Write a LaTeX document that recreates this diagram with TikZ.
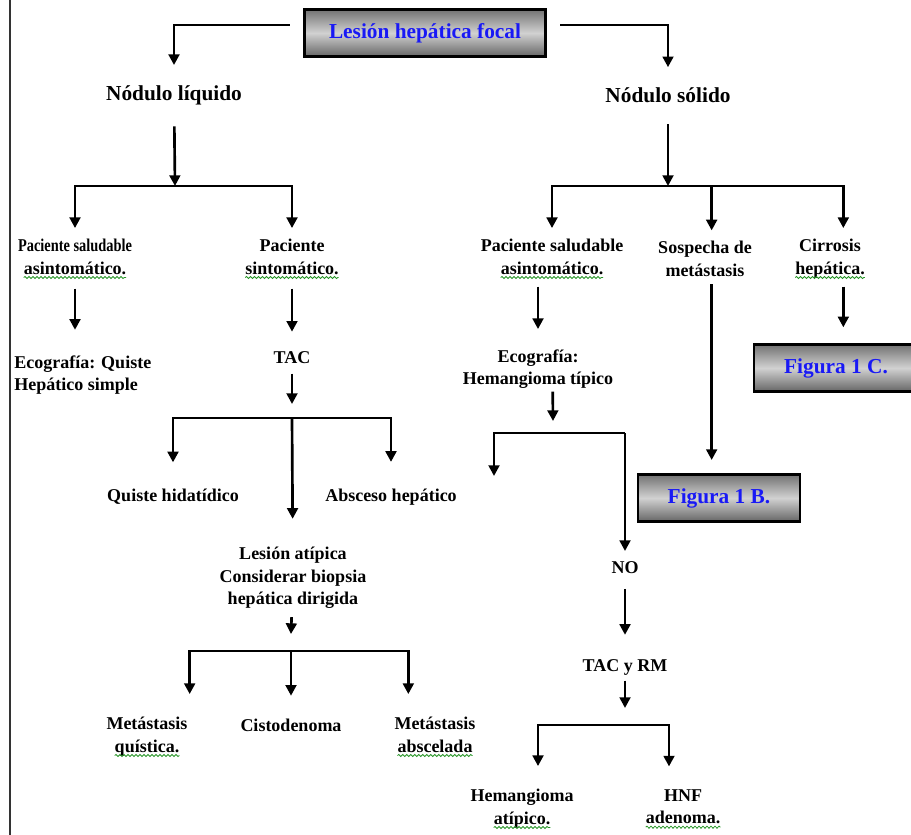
\documentclass[tikz,border=0pt]{standalone}
\usepackage{fontspec}
\setmainfont{Liberation Serif}
\newfontfamily\condfont[FakeStretch=0.8]{Liberation Serif}
\usetikzlibrary{arrows.meta,decorations.pathmorphing,shadings}
\definecolor{boxblue}{RGB}{25,25,245}
\definecolor{squig}{RGB}{40,150,40}
\newcommand{\sq}[1]{\tikz[baseline=(w.base)]{\node[inner sep=0pt,outer sep=0pt](w){#1};\draw[squig,line width=0.6pt,decorate,decoration={snake,amplitude=0.8pt,segment length=3pt}]([yshift=-2.5pt]w.base west)--([yshift=-2.5pt]w.base east);}}
\tikzset{
  lbl/.style={inner sep=0pt, align=center, font=\bfseries\fontsize{13.5}{17}\selectfont},
  big/.style={inner sep=0pt, font=\bfseries\fontsize{16}{19}\selectfont},
  figbox/.style={draw=black, line width=2pt, top color=black!55, bottom color=black!60, middle color=black!18,
    text=boxblue, font=\bfseries\fontsize{16}{19}\selectfont, inner sep=0pt},
  arr/.style={draw=black, line width=2pt, -{Triangle[width=8pt,length=8pt]}},
  ln/.style={draw=black, line width=2pt},
}
\begin{document}
\begin{tikzpicture}[x=0.75pt,y=-0.75pt]
\useasboundingbox (0,0) rectangle (911,835);
% left border
\draw[line width=2.2pt, black!80] (10,0) -- (10,835);

% nodes
\node[figbox, minimum width=181pt, minimum height=35pt] (top) at (425,33) {Lesión hepática focal};
\node[big] (liq) at (174,95) {Nódulo líquido};
\node[big] (sol) at (668,95) {Nódulo sólido};

\node[lbl] (ps1) at (75,259) {{\condfont Paciente saludable}\\\sq{asintomático.}};
\node[lbl] (ps2) at (292,259) {Paciente\\\sq{sintomático.}};
\node[lbl, align=left, anchor=west] (eco1) at (14,375) {Ecografía: Quiste\\Hepático simple};
\node[lbl] (tac1) at (292,358) {TAC};
\node[lbl] (qh) at (173,497) {Quiste hidatídico};
\node[lbl] (ah) at (391,497) {Absceso hepático};
\node[lbl] (la) at (293,578) {Lesión atípica\\Considerar biopsia\\hepática dirigida};
\node[lbl] (mq) at (147,737) {Metástasis\\\sq{quística.}};
\node[lbl] (cis) at (291,725) {Cistodenoma};
\node[lbl] (ma) at (435,737) {Metástasis\\\sq{abscelada}};

\node[lbl] (ps3) at (552,259) {Paciente saludable\\\sq{asintomático.}};
\node[lbl] (sm) at (705,259) {Sospecha de\\metástasis};
\node[lbl] (ch) at (830,259) {Cirrosis\\\sq{hepática.}};
\node[lbl] (eco2) at (538,369) {Ecografía:\\Hemangioma típico};
\node[figbox, minimum width=123pt, minimum height=35pt] (f1c) at (836,368) {Figura 1 C.};
\node[figbox, minimum width=121.5pt, minimum height=35pt] (f1b) at (719,498) {Figura 1 B.};
\node[lbl] (no) at (625,568) {NO};
\node[lbl] (tacrm) at (625,667) {TAC y RM};
\node[lbl] (ha) at (522,809) {Hemangioma\\\sq{atípico.}};
\node[lbl] (hnf) at (683,809) {HNF\\\sq{adenoma.}};

% junction coordinates
\coordinate (b1) at (175,186);
\coordinate (b4) at (668,186);
\coordinate (j2) at (292,404);
\coordinate (b2) at (292,418);
\coordinate (j3) at (291,634);
\coordinate (b3) at (291,651);
\coordinate (j5) at (553,421);
\coordinate (b5r) at (625,433);
\coordinate (e5) at (494,476);
\coordinate (j6) at (625,708);
\coordinate (b6) at (603,725);

% top level
\draw[arr, shorten >=15pt] ([xshift=-10pt,yshift=6pt]top.west) -| (liq);
\draw[arr, shorten >=15pt] ([xshift=10pt,yshift=6pt]top.east) -| (sol);

% left branch
\draw[arr, shorten <=16pt] (liq) -- (b1);
\draw[arr, shorten >=8pt] (b1) -| (ps1);
\draw[arr, shorten >=8pt] (b1) -| (ps2);
\draw[arr, shorten <=7pt, shorten >=19pt] (ps1) -- (ps1 |- eco1.north);
\draw[arr, shorten <=7pt, shorten >=15pt] (ps2) -- (tac1);
\draw[arr, shorten <=7pt] (tac1) -- (j2);
\draw[arr, shorten >=20pt] (b2) -| (qh);
\draw[arr, shorten >=20pt] (b2) -| (ah);
\draw[arr, shorten >=21pt] (b2) -- (la);
\draw[arr, shorten <=6pt] (la) -- (j3);
\draw[arr, shorten >=17pt] (b3) -| ([xshift=32pt]mq.north);
\draw[arr, shorten >=17pt] (b3) -- (cis);
\draw[arr, shorten >=17pt] (b3) -| ([xshift=-20pt]ma.north);

% right branch
\draw[arr, shorten <=16pt] (sol) -- (b4);
\draw[arr, shorten >=8pt] (b4) -| (ps3);
\draw[arr, shorten >=8pt] (b4) -| ([xshift=5pt]sm.north);
\draw[arr, shorten >=8pt] (b4) -| ([xshift=10pt]ch.north);
\draw[arr, shorten <=5.5pt, shorten >=15pt] ([xshift=-10.5pt]ps3.south) -- (eco2.north);
\draw[arr, shorten <=5.5pt, shorten >=10pt] ([xshift=5pt]sm.south) -- ([xshift=5pt]sm.south |- f1b.north);
\draw[arr, shorten <=5.5pt, shorten >=12pt] ([xshift=10pt]ch.south) -- ([xshift=10pt]ch.south |- f1c.north);
\draw[arr, shorten <=2pt] ([xshift=11pt]eco2.south) -- (j5);
\draw[arr] (b5r) -| (e5);
\draw[arr, shorten >=8pt] (b5r) -- (no);
\draw[arr, shorten <=11pt, shorten >=18pt] (no) -- (tacrm);
\draw[arr, shorten <=4pt] (tacrm) -- (j6);
\draw[arr, shorten >=17pt] (b6) -| ([xshift=12pt]ha.north);
\draw[arr, shorten >=17pt] (b6) -| ([xshift=-10.5pt]hnf.north);
\end{tikzpicture}
\end{document}
